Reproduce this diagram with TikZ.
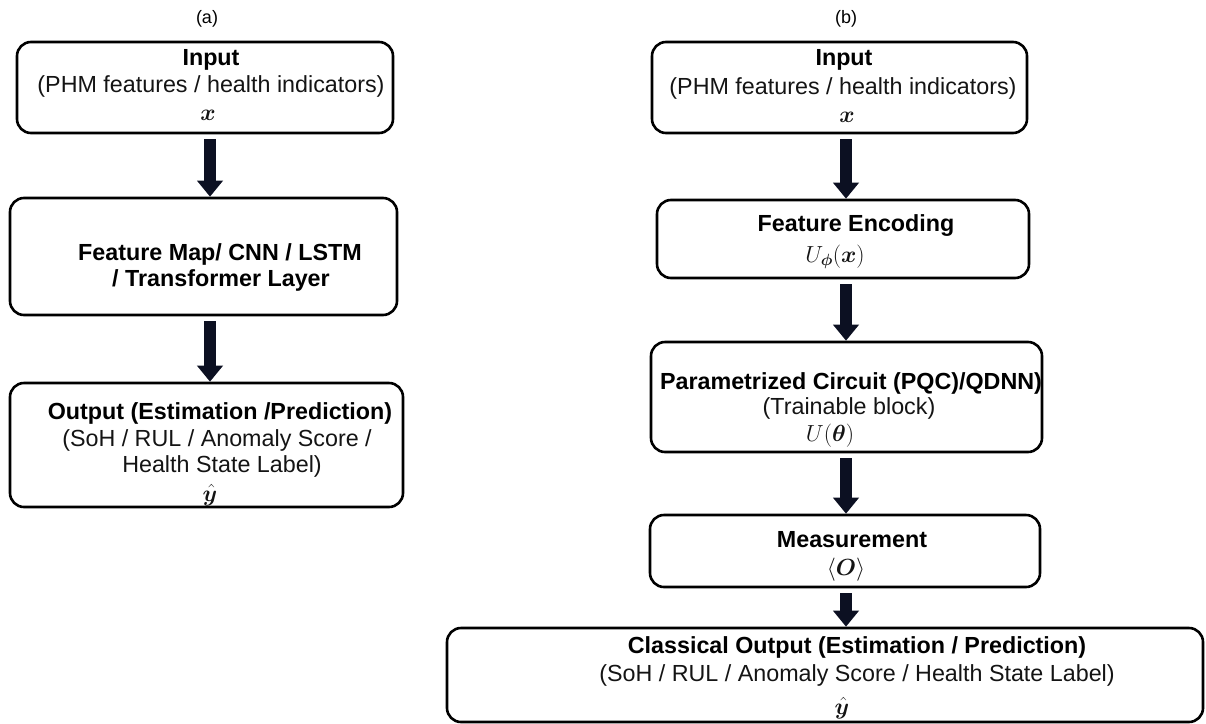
\documentclass[tikz,border=0pt]{standalone}
\usepackage{fix-cm}
\usepackage{amsmath}
\usepackage{bm}
\usepackage{fontspec}
\setmainfont{Liberation Sans}
\usetikzlibrary{arrows.meta}

\definecolor{arrowink}{RGB}{12,16,34}
\definecolor{inktext}{RGB}{20,20,20}

\tikzset{
  box/.style={draw=black, line width=2.6pt, rounded corners=14pt, inner sep=0pt},
  txt/.style={anchor=base, inner sep=0pt, text=inktext, font=\fontsize{23.3}{28}\selectfont},
  hd/.style={anchor=base, inner sep=0pt, text=black, font=\fontsize{23.3}{28}\selectfont\bfseries},
  tag/.style={anchor=base, inner sep=0pt, text=black, font=\fontsize{18}{22}\selectfont},
  flow/.style={draw=arrowink, line width=12pt, shorten <=5pt,
               -{Triangle[width=25pt,length=16pt]}},
}

\begin{document}
\begin{tikzpicture}[x=1pt, y=-1pt]
\useasboundingbox (0,0) rectangle (1206,723);

% ---------------- (a) classical pipeline ----------------
\node[tag] (ta) at (207,23) {(a)};

\node[box, minimum width=376pt, minimum height=91pt]  (A1) at (205,87.5) {};
\node[hd]  (a1l1) at (211,65)  {Input};
\node[txt] (a1l2) at (211,92)  {(PHM features / health indicators)};
\node[txt] (a1l3) at (208,120) {$\bm{x}$};

\node[box, minimum width=387pt, minimum height=117pt] (A2) at (203.5,256.5) {};
\node[hd]  (a2l1) at (220,260) {Feature Map/ CNN / LSTM};
\node[hd]  (a2l2) at (221,286) {/ Transformer Layer};

\node[box, minimum width=393pt, minimum height=124pt] (A3) at (206.5,445) {};
\node[hd]  (a3l1) at (220,419) {Output (Estimation /Prediction)};
\node[txt] (a3l2) at (217,446) {(SoH / RUL / Anomaly Score /};
\node[txt] (a3l3) at (222,472) {Health State Label)};
\node[txt] (a3l4) at (210,501) {$\hat{\bm{y}}$};

\draw[flow] ([xshift=5pt]A1.south) -- ([xshift=6.5pt]A2.north);
\draw[flow] ([xshift=6.5pt]A2.south) -- ([xshift=3.5pt]A3.north);

% ---------------- (b) quantum pipeline ----------------
\node[tag] (tb) at (846,23) {(b)};

\node[box, minimum width=375pt, minimum height=91pt]  (B1) at (839.5,87.5) {};
\node[hd]  (b1l1) at (844,65)  {Input};
\node[txt] (b1l2) at (843,94)  {(PHM features / health indicators)};
\node[txt] (b1l3) at (847,122) {$\bm{x}$};

\node[box, minimum width=372pt, minimum height=78pt]  (B2) at (843,239) {};
\node[hd]  (b2l1) at (856,231) {Feature Encoding};
\node[txt] (b2l2) at (835,262) {$U_{\bm{\phi}}(\bm{x})$};

\node[box, minimum width=391pt, minimum height=110pt] (B3) at (846.5,397) {};
\node[hd]  (b3l1) at (851,389) {Parametrized Circuit (PQC)/QDNN)};
\node[txt] (b3l2) at (849,414) {(Trainable block)};
\node[txt] (b3l3) at (830,441) {$U(\bm{\theta})$};

\node[box, minimum width=390pt, minimum height=72pt]  (B4) at (845,551) {};
\node[hd]  (b4l1) at (852,547) {Measurement};
\node[txt] (b4l2) at (846,575) {$\langle\bm{O}\rangle$};

\node[box, minimum width=756pt, minimum height=94pt]  (B5) at (825,675) {};
\node[hd]  (b5l1) at (857,653) {Classical Output (Estimation / Prediction)};
\node[txt] (b5l2) at (857,681) {(SoH / RUL / Anomaly Score / Health State Label)};
\node[txt] (b5l3) at (842,714) {$\hat{\bm{y}}$};

\draw[flow] ([xshift=6.5pt]B1.south) -- ([xshift=3pt]B2.north);
\draw[flow] ([xshift=3pt]B2.south)   -- ([xshift=-0.5pt]B3.north);
\draw[flow] ([xshift=-0.5pt]B3.south) -- ([xshift=1pt]B4.north);
\draw[flow] ([xshift=1pt]B4.south)   -- ([xshift=21pt]B5.north);
\end{tikzpicture}
\end{document}
